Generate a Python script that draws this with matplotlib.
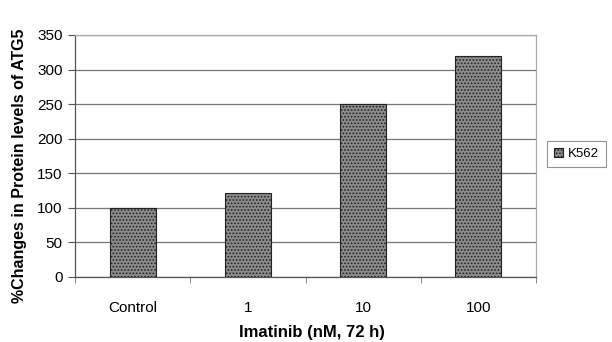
import matplotlib
matplotlib.use("Agg")
import matplotlib.pyplot as plt
import numpy as np

categories = ["Control", "1", "10", "100"]
values = [100, 122, 250, 320]
series_name = "K562"
yticks = [0, 50, 100, 150, 200, 250, 300, 350]

plt.rcParams['font.family'] = ['Liberation Sans', 'DejaVu Sans']
plt.rcParams['hatch.color'] = '#4a4a4a'
plt.rcParams['hatch.linewidth'] = 0.8

fig = plt.figure(figsize=(6.12, 3.42), dpi=100)
ax = fig.add_axes([75/612, 1-277/342, (536-75)/612, (277-35)/342])

x = np.arange(len(categories))
bars = ax.bar(x, values, width=0.4, color='#8c8c8c', edgecolor='#222222',
              linewidth=0.8, hatch='.....', label=series_name, zorder=3)

ax.set_xlim(-0.5, len(categories) - 0.5)
ax.set_ylim(0, 350)
ax.set_yticks(yticks)
ax.set_yticklabels([str(v) for v in yticks], fontsize=11)
ax.yaxis.grid(True, color='#777777', linewidth=0.9, zorder=0)
ax.set_axisbelow(True)

ax.set_xticks(x)
ax.set_xticklabels(categories, fontsize=11)
ax.tick_params(axis='x', length=0, pad=17)
ax.set_xticks(np.arange(len(categories) + 1) - 0.5, minor=True)
ax.tick_params(axis='x', which='minor', length=4, direction='out', color='#777777')
ax.tick_params(axis='y', length=5, direction='out', color='#555555', pad=4)

for s in ['left', 'bottom']:
    ax.spines[s].set_color('#555555')
    ax.spines[s].set_linewidth(0.9)
for s in ['top', 'right']:
    ax.spines[s].set_color('#aaaaaa')
    ax.spines[s].set_linewidth(0.9)

ax.set_ylabel("%Changes in Protein levels of ATG5", fontsize=11.5, fontweight='bold')
ax.yaxis.set_label_coords((20 - 75) / 461, 0.5 + (146 - 156) / 242)
ax.yaxis.label.set_va('center')
ax.set_xlabel("Imatinib (nM, 72 h)", fontsize=12, fontweight='bold')
ax.xaxis.set_label_coords((312 - 75) / 461, (277 - 332) / 242)
ax.xaxis.label.set_va('center')

leg = fig.legend(handles=[bars], labels=[series_name], loc='center left',
                 bbox_to_anchor=(547/612, 1-154/342), fontsize=9.5, frameon=True,
                 fancybox=False, handlelength=0.7, handleheight=0.7,
                 handletextpad=0.3, borderpad=0.55, borderaxespad=0)
leg.get_frame().set_edgecolor('#777777')
leg.get_frame().set_linewidth(0.8)

fig.savefig("out.png", dpi=100)
